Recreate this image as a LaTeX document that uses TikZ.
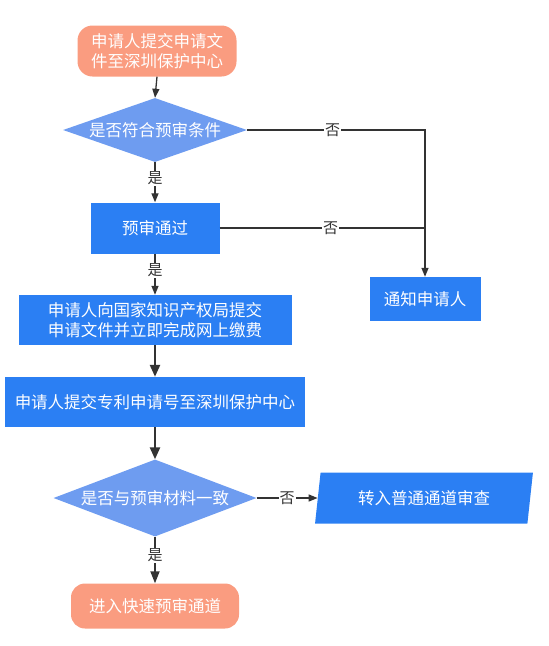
\documentclass[tikz,border=0pt]{standalone}
\usepackage{fontspec}
\newfontfamily\cjk{Noto Sans CJK SC}
\usetikzlibrary{shapes.geometric,arrows.meta}
\definecolor{boxblue}{HTML}{2B7FF3}
\definecolor{diablue}{HTML}{6E9CF0}
\definecolor{salmon}{HTML}{FA9C80}
\definecolor{linegray}{HTML}{333333}
\tikzset{
  base/.style={font=\cjk\fontsize{16.5}{20}\selectfont, text=white, inner sep=0pt, align=center},
  terminal/.style={base, fill=salmon, rounded corners=15pt},
  procbox/.style={base, fill=boxblue},
  decision/.style={base, diamond, fill=diablue},
  iobox/.style={base, trapezium, trapezium left angle=77, trapezium right angle=103, trapezium stretches=true, fill=boxblue},
  conn/.style={draw=linegray, line width=1.3pt},
  arr/.style={conn, -{Triangle[length=9pt,width=7pt]}},
  thickarr/.style={draw=linegray, line width=2.4pt, -{Triangle[length=12pt,width=10pt]}},
  medarr/.style={draw=linegray, line width=1.8pt, -{Triangle[length=12pt,width=9pt]}},
  lbl/.style={font=\cjk\fontsize{15}{18}\selectfont, text=linegray, fill=white, inner sep=1pt}
}
\begin{document}
\begin{tikzpicture}[x=1pt,y=-1pt]
\useasboundingbox (0,0) rectangle (549,646);
\node[terminal, minimum width=159pt, minimum height=51pt] (s) at (157,51) {申请人提交申请文\\件至深圳保护中心};
\node[decision, aspect=3.2, minimum width=184pt, minimum height=64pt] (d1) at (155,130) {是否符合预审条件};
\node[procbox, minimum width=129pt, minimum height=51pt] (b2) at (155,228) {预审通过};
\node[procbox, minimum width=273pt, minimum height=50pt] (b3) at (155,320) {申请人向国家知识产权局提交\\申请文件并立即完成网上缴费};
\node[procbox, minimum width=300pt, minimum height=50pt] (b4) at (155,402) {申请人提交专利申请号至深圳保护中心};
\node[decision, aspect=2.8, minimum width=203pt, minimum height=77pt] (d2) at (155,498) {是否与预审材料一致};
\node[terminal, minimum width=168pt, minimum height=45pt, rounded corners=14pt] (e) at (155,606) {进入快速预审通道};
\node[procbox, minimum width=111pt, minimum height=44pt] (n) at (425,299) {通知申请人};
\node[iobox, minimum width=218pt, minimum height=51pt] (p) at (424,498) {转入普通通道审查};

\draw[arr] (s.south) -- (d1.north);
\draw[arr] (d1.south) -- node[lbl, pos=0.4]{是} (b2.north);
\draw[arr] (b2.south) -- node[lbl, pos=0.4]{是} (b3.north);
\draw[thickarr] (b3.south) -- (b4.north);
\draw[thickarr] (b4.south) -- (d2.north);
\draw[medarr] (d2.south) -- node[lbl, pos=0.4]{是} (e.north);
\draw[arr] (d1.east) -- node[lbl, pos=0.48]{否} (d1.east -| n.north) -- (n.north);
\draw[conn] (b2.east) -- node[lbl, pos=0.54]{否} (b2.east -| n.north);
\draw[arr] (d2.east) -- node[lbl]{否} (p.west);
\end{tikzpicture}
\end{document}
